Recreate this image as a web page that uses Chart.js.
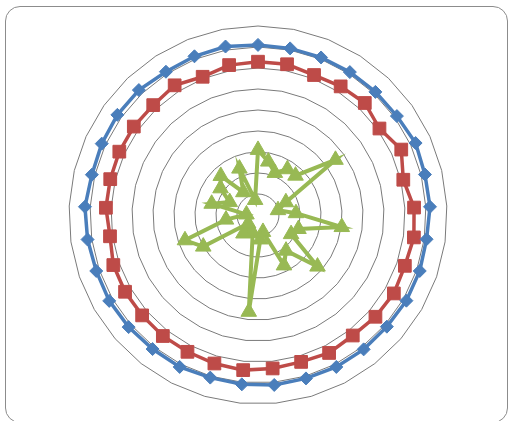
<!DOCTYPE html>
<html>
<head>
<meta charset="utf-8">
<script src="https://cdn.jsdelivr.net/npm/chart.js@4"></script>
<style>
  html, body { margin: 0; padding: 0; background: #fff; overflow: hidden; }
  #frame {
    position: absolute; left: 5px; top: 6px; width: 503px; height: 417px;
    box-sizing: border-box; border: 1px solid #8c8c8c; border-radius: 15px;
  }
  #radarChart { position: absolute; left: 0; top: 0; }
</style>
</head>
<body>
<div id="frame"></div>
<canvas id="radarChart" width="508" height="421"></canvas>
<script>
// 33 spokes, no labels shown
const labels = Array.from({ length: 33 }, (_, i) => String(i + 1));

const blueValues = [81.0, 80.8, 80.8, 80.9, 81.0, 81.2, 82.5, 81.8, 82.0, 81.1, 81.5,
  81.6, 81.2, 81.4, 81.4, 81.1, 81.3, 81.0, 80.7, 81.4, 81.2, 81.5, 81.8, 81.5, 82.0,
  82.5, 81.4, 81.8, 82.2, 82.2, 81.1, 81.4, 81.7];

const redValues = [73.0, 73.1, 71.8, 72.8, 73.7, 71.0, 75.0, 71.2, 74.4, 75.0, 74.0,
  74.7, 74.0, 73.0, 73.9, 72.9, 73.4, 74.2, 73.7, 73.3, 73.3, 73.0, 73.1, 72.9, 71.2,
  72.5, 72.4, 72.6, 72.6, 72.3, 73.4, 70.9, 72.7];

const greenValues = [31.0, 25.9, 21.6, 25.9, 25.9, 45.3, 14.6, 9.8, 18.1, 40.3, 20.4,
  18.2, 37.5, 21.6, 27.0, 8.4, 11.7, 46.3, 8.9, 8.5, 11.2, 6.2, 30.1, 36.8, 15.4, 5.5,
  22.7, 14.8, 21.9, 25.7, 12.9, 23.8, 7.3];

const radarData = {
  labels: labels,
  datasets: [
    {
      label: 'Series 1',
      data: blueValues,
      borderColor: '#4a7ebb',
      backgroundColor: '#4a7ebb',
      borderWidth: 3.5,
      fill: false,
      pointStyle: 'rectRot',
      pointRadius: 6.5,
      pointBackgroundColor: '#4a7ebb',
      pointBorderColor: '#4a7ebb',
      pointBorderWidth: 1,
    },
    {
      label: 'Series 2',
      data: redValues,
      borderColor: '#be4b48',
      backgroundColor: '#be4b48',
      borderWidth: 3.5,
      fill: false,
      pointStyle: 'rect',
      pointRadius: 9,
      pointBackgroundColor: '#be4b48',
      pointBorderColor: '#be4b48',
      pointBorderWidth: 1,
    },
    {
      label: 'Series 3',
      data: greenValues,
      borderColor: '#98b954',
      backgroundColor: '#98b954',
      borderWidth: 4,
      fill: false,
      pointStyle: 'triangle',
      pointRadius: 9,
      pointBackgroundColor: '#98b954',
      pointBorderColor: '#98b954',
      pointBorderWidth: 1,
    },
  ],
};

const radarConfig = {
  type: 'radar',
  data: radarData,
  options: {
    responsive: false,
    animation: false,
    layout: {
      padding: { top: 26, bottom: 17, left: 8, right: 0 },
    },
    elements: {
      line: { tension: 0 },
    },
    scales: {
      r: {
        min: 0,
        max: 90,
        ticks: {
          display: false,
          stepSize: 10,
        },
        grid: {
          circular: false,
          color: '#7a7a7a',
          lineWidth: 1,
        },
        angleLines: { display: false },
        pointLabels: { display: false },
      },
    },
    plugins: {
      legend: { display: false },
      tooltip: { enabled: false },
    },
  },
};

const ctx = document.getElementById('radarChart').getContext('2d');
new Chart(ctx, radarConfig);
</script>
</body>
</html>
